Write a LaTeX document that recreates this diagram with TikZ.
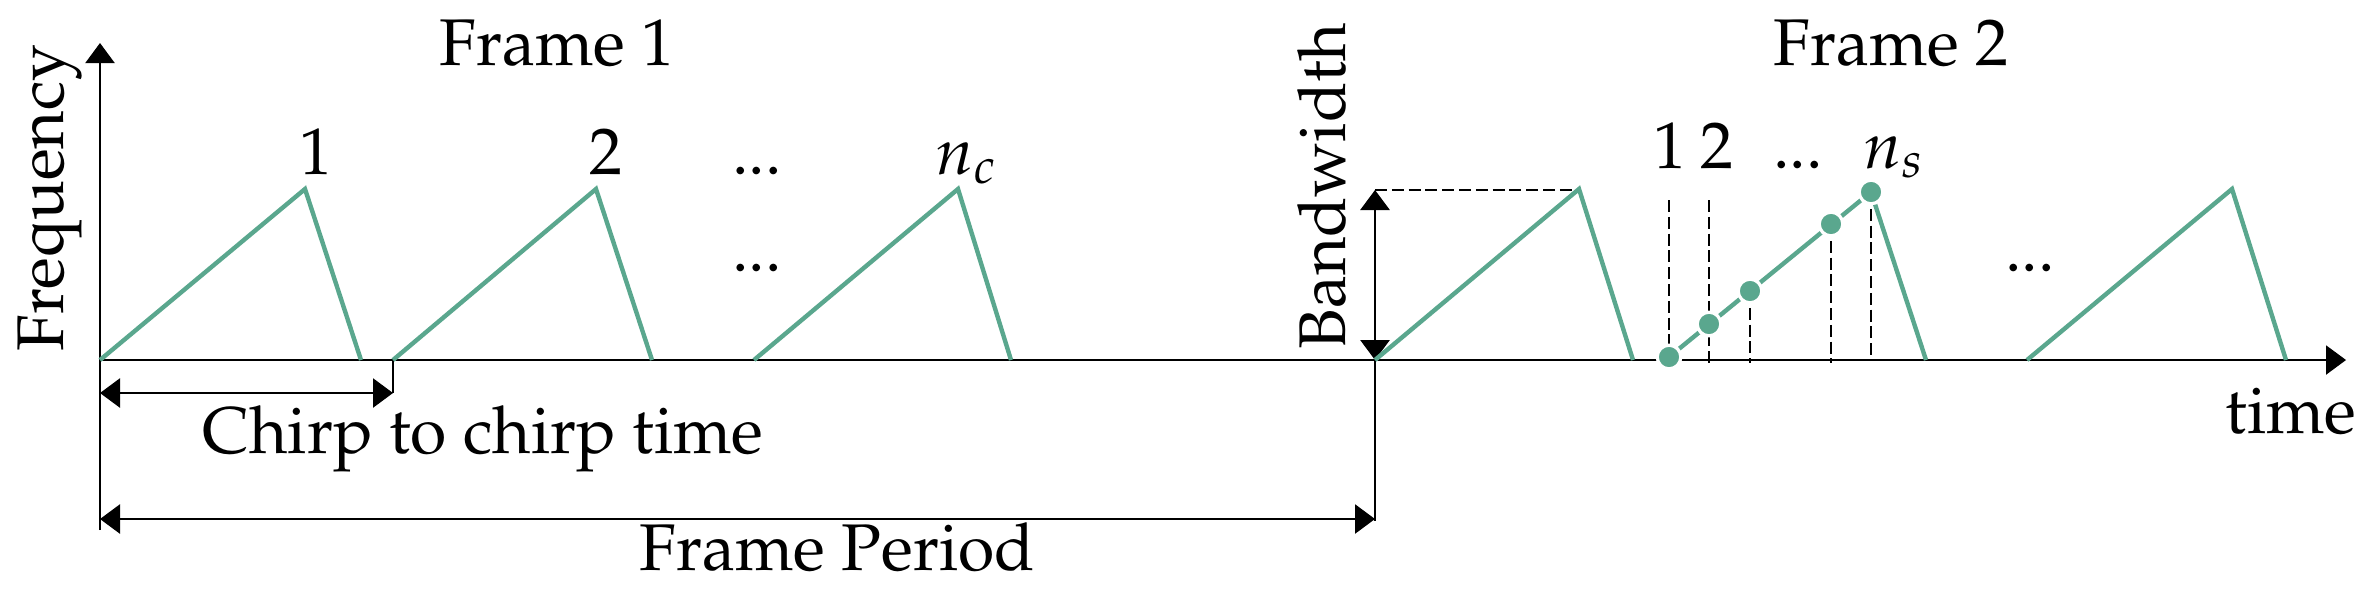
\documentclass[tikz,border=0pt]{standalone}
\usepackage[T1]{fontenc}
\usepackage{mathpazo}
\usetikzlibrary{arrows.meta}
\definecolor{chirpgreen}{RGB}{90,167,142}
\begin{document}
\begin{tikzpicture}[x=0.25pt,y=-0.25pt,
  lbl/.style={inner sep=0pt,font=\fontsize{16.5}{19}\selectfont},
  chirp/.style={draw=chirpgreen,line width=1.1pt,line join=miter},
  axisline/.style={line width=0.35pt},
  tip/.style={-{Triangle[length=5pt,width=7.3pt]}},
  dimarrow/.style={line width=0.45pt,{Triangle[length=5pt,width=7.3pt]}-{Triangle[length=5pt,width=7.3pt]}},
  guide/.style={line width=0.35pt,dash pattern=on 3pt off 1.2pt},
  sample/.style={circle,fill=chirpgreen,draw=white,line width=0.8pt,minimum size=5.9pt,inner sep=0pt}]
\useasboundingbox (0,0) rectangle (2375,592);
% axes
\coordinate (O) at (100,360);
\coordinate (ytip) at (100,43);
\coordinate (ybot) at (100,530);
\coordinate (xtip) at (2346,360);
\draw[axisline,tip] (ybot) -- (ytip);
\draw[axisline,tip] (O) -- (xtip);
% ticks
\coordinate (c2s) at (393,360);
\coordinate (c2d) at (393,393);
\coordinate (f2s) at (1375,360);
\coordinate (f2d) at (1375,521);
\draw[axisline] (c2s) -- (c2d);
\draw[axisline] (f2s) -- (f2d);
% dimension arrows
\coordinate (ctcL) at (100,393);
\coordinate (ctcR) at (393,393);
\coordinate (fpL) at (100,519);
\coordinate (fpR) at (1375,519);
\coordinate (bwT) at (1375,190);
\coordinate (pk4) at (1579,190);
\draw[dimarrow] (ctcL) -- (ctcR);
\draw[dimarrow] (fpL) -- (fpR);
\draw[dimarrow,line width=0.55pt] (bwT) -- (f2s);
\draw[guide] (bwT) -- (pk4);
% chirps
\draw[chirp] (100,360) -- (305,189) -- (361,360);
\draw[chirp] (393,360) -- (596,189) -- (652,360);
\draw[chirp] (754,360) -- (958,189) -- (1011,360);
\draw[chirp] (1375,360) -- (1579,189) -- (1633,360);
\draw[chirp] (2027,360) -- (2232,189) -- (2286,360);
% sampled chirp
\coordinate (p1) at (1669,357);
\coordinate (p2) at (1709,324);
\coordinate (p3) at (1750,291);
\coordinate (p4) at (1831,224);
\coordinate (p5) at (1871,192);
\draw[guide] (1669,200) -- (p1);
\draw[guide] (1709,200) -- (1709,363);
\draw[guide] (p3) -- (1750,363);
\draw[guide] (p4) -- (1831,363);
\draw[guide] (p5) -- (1871,361);
\draw[chirp] (p1) -- (p5) -- (1926,360);
\foreach \p in {p1,p2,p3,p4,p5} \node[sample] (d\p) at (\p) {};
% labels
\node[lbl,anchor=base] (f1) at (557,65) {Frame 1};
\node[lbl,anchor=base] (f2) at (1891,65) {Frame 2};
\node[lbl,anchor=base] (l1) at (316,174) {1};
\node[lbl,anchor=base] (l2) at (606,174) {2};
\node[lbl,anchor=base] (ld) at (757,174) {...};
\node[lbl,anchor=base west] (lnc) at (935,174) {$n_c$};
\node[lbl,anchor=base] (ld2) at (757,271) {...};
\node[lbl,anchor=base] (ld3) at (2030,271) {...};
\node[lbl,anchor=base] (s1l) at (1670,168) {1};
\node[lbl,anchor=base] (s2l) at (1717,168) {2};
\node[lbl,anchor=base] (sdl) at (1798,168) {...};
\node[lbl,anchor=base west] (snl) at (1863,168) {$n_s$};
\node[lbl,anchor=base,rotate=90] (freq) at (64,198) {Frequency};
\node[lbl,anchor=base,rotate=90] (bw) at (1345,186) {Bandwidth};
\node[lbl,anchor=base] (ctc) at (483,453) {Chirp to chirp time};
\node[lbl,anchor=base] (fp) at (837,570) {Frame Period};
\node[lbl,anchor=base] (tm) at (2291,433) {time};
\end{tikzpicture}
\end{document}
